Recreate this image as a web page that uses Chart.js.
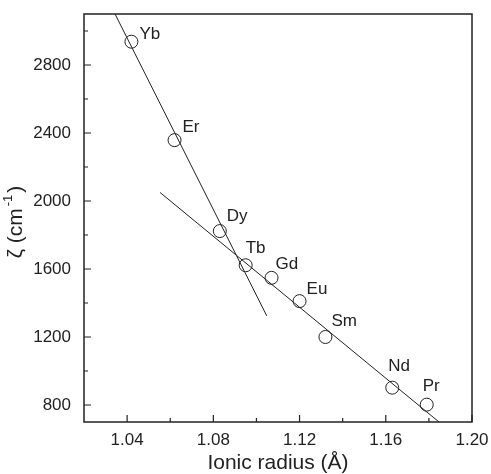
<!DOCTYPE html>
<html>
<head>
<meta charset="utf-8">
<script src="https://cdn.jsdelivr.net/npm/chart.js@4.4.1/dist/chart.umd.min.js"></script>
<style>
  html, body { margin: 0; padding: 0; background: #fff; }
</style>
</head>
<body>
<canvas id="zetaChart" width="491" height="474"></canvas>
<script>
// Data
const elements = ['Yb', 'Er', 'Dy', 'Tb', 'Gd', 'Eu', 'Sm', 'Nd', 'Pr'];
const ionicRadius = [1.042, 1.062, 1.083, 1.095, 1.107, 1.120, 1.132, 1.163, 1.179];
const zeta = [2937, 2358, 1823, 1622, 1548, 1411, 1200, 902, 802];

// Linear fits (end points)
const fitHeavyX = [1.0344, 1.1048];
const fitHeavyY = [3100, 1324];
const fitLightX = [1.0553, 1.1847];
const fitLightY = [2050, 700];

// Axis ticks
const xMajor = [1.04, 1.08, 1.12, 1.16, 1.20];
const xMinor = [1.06, 1.10, 1.14, 1.18];
const yMajor = [800, 1200, 1600, 2000, 2400, 2800];
const yMinor = [1000, 1400, 1800, 2200, 2600, 3000];

// Label placement relative to each point (pixels)
const labelOffsets = [[8, -7], [8, -13], [7, -15], [0, -17], [4, -14], [7, -12], [6, -16], [-4, -21], [-4, -18]];

const font = '"Liberation Sans", Arial, sans-serif';
const ink = '#222';

const toXY = (xs, ys) => xs.map((x, i) => ({ x: x, y: ys[i] }));

// Frame, inward ticks, point labels and axis titles
const decorations = {
    id: 'decorations',
    afterDraw(chart) {
        const ctx = chart.ctx;
        const area = chart.chartArea;
        const xs = chart.scales.x;
        const ys = chart.scales.y;
        ctx.save();
        ctx.strokeStyle = ink;
        ctx.lineWidth = 1.5;
        ctx.strokeRect(area.left, area.top, area.right - area.left, area.bottom - area.top);

        ctx.lineWidth = 1.2;
        ctx.beginPath();
        xMajor.forEach(v => { const p = xs.getPixelForValue(v); ctx.moveTo(p, area.bottom); ctx.lineTo(p, area.bottom - 7); });
        xMinor.forEach(v => { const p = xs.getPixelForValue(v); ctx.moveTo(p, area.bottom); ctx.lineTo(p, area.bottom - 4); });
        yMajor.forEach(v => { const p = ys.getPixelForValue(v); ctx.moveTo(area.left, p); ctx.lineTo(area.left + 7, p); });
        yMinor.forEach(v => { const p = ys.getPixelForValue(v); ctx.moveTo(area.left, p); ctx.lineTo(area.left + 4, p); });
        ctx.stroke();

        // element labels
        ctx.fillStyle = ink;
        ctx.font = '17px ' + font;
        ctx.textAlign = 'left';
        ctx.textBaseline = 'middle';
        chart.getDatasetMeta(0).data.forEach((pt, i) => {
            ctx.fillText(elements[i], pt.x + labelOffsets[i][0], pt.y + labelOffsets[i][1]);
        });

        // x title
        ctx.font = '21px ' + font;
        ctx.textAlign = 'center';
        ctx.fillText('Ionic radius (Å)', (area.left + area.right) / 2, 463);

        // y title with superscript
        ctx.translate(16, (area.top + area.bottom) / 2 + 4);
        ctx.rotate(-Math.PI / 2);
        const main = 'ζ (cm';
        const sup = '-1';
        const close = ')';
        ctx.font = '21px ' + font;
        const wMain = ctx.measureText(main).width;
        const wClose = ctx.measureText(close).width;
        ctx.font = '13px ' + font;
        const wSup = ctx.measureText(sup).width;
        let x0 = -(wMain + wSup + wClose + 4) / 2;
        ctx.textAlign = 'left';
        ctx.font = '21px ' + font;
        ctx.fillText(main, x0, 0);
        ctx.font = '13px ' + font;
        ctx.fillText(sup, x0 + wMain + 2, -8);
        ctx.font = '21px ' + font;
        ctx.fillText(close, x0 + wMain + wSup + 4, 0);
        ctx.restore();
    }
};

new Chart(document.getElementById('zetaChart'), {
    type: 'scatter',
    data: {
        datasets: [
            {
                label: 'zeta',
                data: toXY(ionicRadius, zeta),
                showLine: false,
                pointStyle: 'circle',
                pointRadius: 6.5,
                pointBackgroundColor: 'rgba(0,0,0,0)',
                pointBorderColor: ink,
                pointBorderWidth: 1
            },
            {
                label: 'fit heavy',
                data: toXY(fitHeavyX, fitHeavyY),
                showLine: true,
                pointRadius: 0,
                borderColor: ink,
                borderWidth: 1
            },
            {
                label: 'fit light',
                data: toXY(fitLightX, fitLightY),
                showLine: true,
                pointRadius: 0,
                borderColor: ink,
                borderWidth: 1
            }
        ]
    },
    options: {
        responsive: false,
        animation: false,
        layout: { padding: { top: 14, right: 19, left: 0, bottom: 0 } },
        plugins: { legend: { display: false }, tooltip: { enabled: false } },
        scales: {
            x: {
                type: 'linear',
                min: 1.02,
                max: 1.20,
                afterBuildTicks: s => { s.ticks = xMajor.map(v => ({ value: v })); },
                afterFit: s => { s.height = 52; s.paddingLeft = 0; s.paddingRight = 0; },
                grid: { display: false },
                border: { display: false },
                ticks: {
                    autoSkip: false,
                    maxRotation: 0,
                    padding: 0,
                    color: ink,
                    font: { family: font, size: 17 },
                    callback: v => v.toFixed(2)
                }
            },
            y: {
                type: 'linear',
                min: 700,
                max: 3100,
                afterBuildTicks: s => { s.ticks = yMajor.map(v => ({ value: v })); },
                afterFit: s => { s.width = 84; s.paddingTop = 0; s.paddingBottom = 0; },
                grid: { display: false },
                border: { display: false },
                ticks: {
                    autoSkip: false,
                    padding: 5,
                    color: ink,
                    font: { family: font, size: 17 },
                    callback: v => String(v)
                }
            }
        }
    },
    plugins: [decorations]
});
</script>
</body>
</html>
